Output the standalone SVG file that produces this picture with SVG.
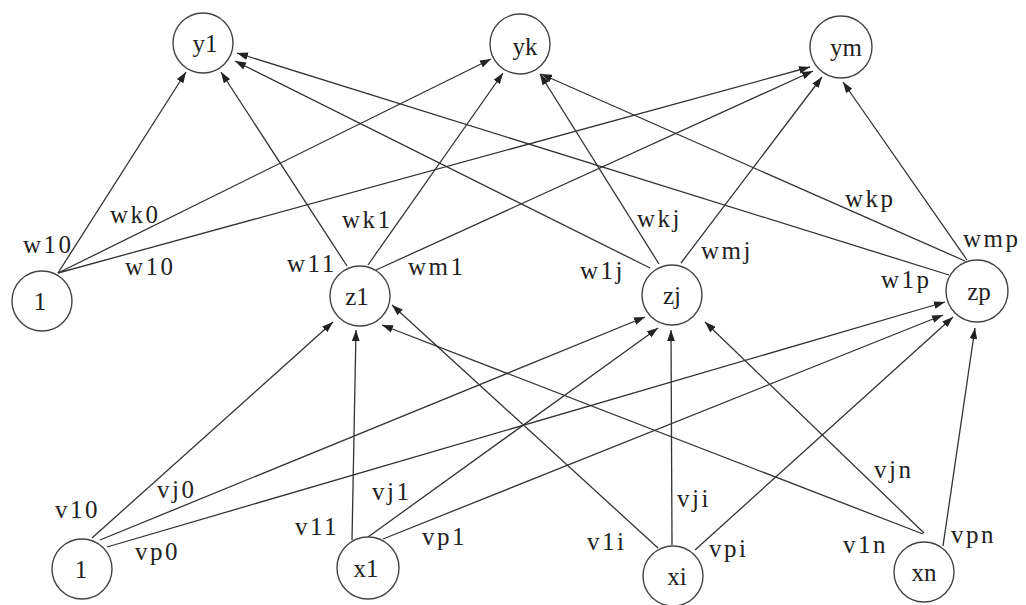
<svg xmlns="http://www.w3.org/2000/svg" width="1026" height="605" viewBox="0 0 1026 605">
  <defs>
    <marker id="arrow" viewBox="0 0 10 7" refX="10" refY="3.5" markerWidth="11" markerHeight="8" markerUnits="userSpaceOnUse" orient="auto">
      <path d="M0,0 L10,3.5 L0,7 z" fill="#222"/>
    </marker>
    <style>
      text { font-family: 'Liberation Serif', 'DejaVu Serif', 'Times New Roman', serif; }
      .node circle { fill: #fff; stroke: #444; stroke-width: 1.4; }
      .node text { font-size: 25px; fill: #222; text-anchor: middle; }
      .edges line { stroke: #333; stroke-width: 1.3; marker-end: url(#arrow); }
      .lbl { font-size: 25px; fill: #222; letter-spacing: 2.5px; }
    </style>
  </defs>
  <rect width="1026" height="605" fill="#fff"/>

  <!-- connectors: hidden layer to output layer, input layer to hidden layer -->
  <g id="connectors" class="edges">
    <!-- bias 1 (hidden) to outputs -->
    <line x1="58" y1="273" x2="186" y2="72"/>
    <line x1="58" y1="273" x2="491" y2="59"/>
    <line x1="58" y1="273" x2="810" y2="67"/>
    <!-- z1 to outputs -->
    <line x1="347" y1="266" x2="221" y2="72"/>
    <line x1="368" y1="265" x2="503" y2="73"/>
    <line x1="376" y1="270" x2="813" y2="71"/>
    <!-- zj to outputs -->
    <line x1="650" y1="268" x2="235" y2="61"/>
    <line x1="659" y1="264" x2="540" y2="74"/>
    <line x1="681" y1="263" x2="822" y2="77"/>
    <!-- zp to outputs -->
    <line x1="949" y1="275" x2="237" y2="53"/>
    <line x1="965" y1="261" x2="541" y2="74"/>
    <line x1="967" y1="260" x2="843" y2="82"/>
    <!-- bias 1 (input) to hidden -->
    <line x1="92" y1="538" x2="333" y2="322"/>
    <line x1="100" y1="540" x2="645" y2="317"/>
    <line x1="107" y1="547" x2="945" y2="302"/>
    <!-- x1 to hidden -->
    <line x1="352" y1="540" x2="356" y2="330"/>
    <line x1="368" y1="537" x2="658" y2="328"/>
    <line x1="383" y1="539" x2="943" y2="315"/>
    <!-- xi to hidden -->
    <line x1="658" y1="548" x2="392" y2="305"/>
    <line x1="672" y1="545" x2="671" y2="330"/>
    <line x1="695" y1="550" x2="953" y2="317"/>
    <!-- xn to hidden -->
    <line x1="923" y1="534" x2="382" y2="325"/>
    <line x1="924" y1="533" x2="705" y2="322"/>
    <line x1="943" y1="546" x2="975" y2="328"/>
  </g>

  <!-- output layer -->
  <g id="node-y1" class="node"><circle cx="203" cy="43" r="30"/><text x="205" y="52">y1</text></g>
  <g id="node-yk" class="node"><circle cx="520" cy="44" r="30"/><text x="525" y="55">yk</text></g>
  <g id="node-ym" class="node"><circle cx="841" cy="47" r="31"/><text x="846" y="56">ym</text></g>

  <!-- hidden layer -->
  <g id="node-h0" class="node"><circle cx="42" cy="301" r="30"/><text x="40" y="310">1</text></g>
  <g id="node-z1" class="node"><circle cx="360" cy="296" r="30"/><text x="357" y="305">z1</text></g>
  <g id="node-zj" class="node"><circle cx="672" cy="295" r="30"/><text x="672" y="304">zj</text></g>
  <g id="node-zp" class="node"><circle cx="977" cy="291" r="31"/><text x="979" y="300">zp</text></g>

  <!-- input layer -->
  <g id="node-x0" class="node"><circle cx="82" cy="569" r="30"/><text x="81" y="578">1</text></g>
  <g id="node-x1" class="node"><circle cx="368" cy="568" r="31"/><text x="366" y="577">x1</text></g>
  <g id="node-xi" class="node"><circle cx="673" cy="576" r="30"/><text x="677" y="585">xi</text></g>
  <g id="node-xn" class="node"><circle cx="924" cy="572" r="30"/><text x="924" y="581">xn</text></g>

  <!-- weight labels -->
  <g id="labels">
    <text class="lbl" x="23" y="253">w10</text>
    <text class="lbl" x="110" y="223">wk0</text>
    <text class="lbl" x="125" y="275">w10</text>
    <text class="lbl" x="287" y="272">w11</text>
    <text class="lbl" x="342" y="228">wk1</text>
    <text class="lbl" x="408" y="275">wm1</text>
    <text class="lbl" x="580" y="279">w1j</text>
    <text class="lbl" x="637" y="227">wkj</text>
    <text class="lbl" x="701" y="259">wmj</text>
    <text class="lbl" x="845" y="207">wkp</text>
    <text class="lbl" x="963" y="247">wmp</text>
    <text class="lbl" x="881" y="288">w1p</text>

    <text class="lbl" x="55" y="518">v10</text>
    <text class="lbl" x="157" y="498">vj0</text>
    <text class="lbl" x="135" y="560">vp0</text>
    <text class="lbl" x="295" y="535">v11</text>
    <text class="lbl" x="372" y="500">vj1</text>
    <text class="lbl" x="422" y="545">vp1</text>
    <text class="lbl" x="587" y="550">v1i</text>
    <text class="lbl" x="677" y="507">vji</text>
    <text class="lbl" x="709" y="557">vpi</text>
    <text class="lbl" x="874" y="478">vjn</text>
    <text class="lbl" x="843" y="553">v1n</text>
    <text class="lbl" x="951" y="543">vpn</text>
  </g>
</svg>
